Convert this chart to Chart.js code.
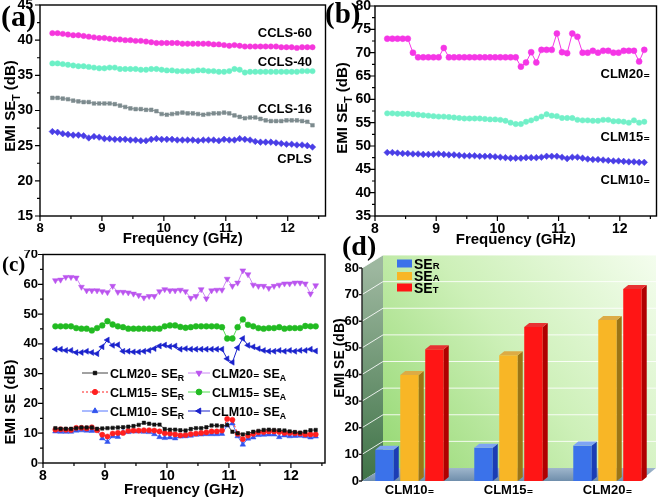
<!DOCTYPE html>
<html><head><meta charset="utf-8">
<script src="https://cdn.jsdelivr.net/npm/chart.js@4"></script>
<style>
html,body{margin:0;padding:0;background:#fff;width:661px;height:498px;overflow:hidden;position:relative;}
canvas{position:absolute;}
</style></head><body>
<canvas id="cd" width="331" height="266" style="left:330px;top:232px"></canvas>
<canvas id="cc" width="330" height="248" style="left:0px;top:250px"></canvas>
<canvas id="ca" width="330" height="250" style="left:0px;top:0px"></canvas>
<canvas id="cb" width="339" height="250" style="left:322px;top:0px"></canvas>
<script>
// ---------------- DATA ----------------
const freq = [8.200,8.284,8.368,8.452,8.536,8.620,8.704,8.788,8.872,8.956,
  9.040,9.124,9.208,9.292,9.376,9.460,9.544,9.628,9.712,9.796,
  9.880,9.964,10.048,10.132,10.216,10.300,10.384,10.468,10.552,10.636,
  10.720,10.804,10.888,10.972,11.056,11.140,11.224,11.308,11.392,11.476,
  11.560,11.644,11.728,11.812,11.896,11.980,12.064,12.148,12.232,12.316,12.400];

// panel (a) EMI SE_T
const ccls60 = [41.0,41.0,40.9,40.8,40.7,40.7,40.6,40.5,40.4,40.3,
  40.3,40.2,40.1,40.1,40.0,40.0,39.9,39.9,39.8,39.7,
  39.6,39.6,39.6,39.6,39.6,39.5,39.5,39.5,39.5,39.5,
  39.5,39.4,39.4,39.3,39.2,39.3,39.2,39.1,39.1,39.1,
  39.1,39.1,39.1,39.1,39.0,39.0,39.0,38.9,39.0,39.0,39.0];
const ccls40 = [36.7,36.7,36.6,36.5,36.4,36.3,36.3,36.2,36.1,36.0,36.0,
  36.1,36.1,35.9,35.9,35.9,35.9,35.8,35.8,35.9,35.9,35.8,
  35.7,35.7,35.6,35.6,35.6,35.6,35.7,35.7,35.6,35.6,35.5,
  35.5,35.6,35.9,35.8,35.4,35.5,35.5,35.5,35.5,35.5,35.5,
  35.5,35.5,35.5,35.5,35.6,35.6,35.6];
const ccls16 = [31.8,31.8,31.7,31.6,31.4,31.3,31.2,31.2,31.0,31.0,31.0,
  31.0,30.9,30.7,30.5,30.3,30.2,30.2,30.1,30.1,29.9,29.5,
  29.4,29.5,29.6,29.7,29.6,29.6,29.5,29.4,29.5,29.6,29.6,
  29.7,29.6,29.3,29.1,28.9,29.0,29.0,28.8,28.6,28.5,28.5,
  28.5,28.6,28.6,28.6,28.5,28.4,27.9];
const cpls = [27.0,26.9,26.7,26.6,26.5,26.5,26.4,26.1,26.3,26.2,26.0,
  26.0,25.9,25.9,25.9,25.8,25.8,25.7,25.7,25.9,26.0,25.9,
  25.9,25.9,25.8,25.8,25.8,25.8,25.7,25.8,25.8,25.8,25.7,
  25.9,25.8,25.8,26.0,25.9,25.8,25.6,25.5,25.5,25.5,25.4,
  25.3,25.2,25.2,25.1,25.1,25.0,24.8];
const aNames = ['CCLS-60','CCLS-40','CCLS-16','CPLS'];

// panel (b) EMI SE_T
const clm20T = [73,73,73,73,73,70,69,69,69,69,69,71,
  69,69,69,69,69,69,69,69,69,69,69,69,69,69,
  67,67.9,70.1,67.9,70.6,70.6,70.6,74.1,70.1,69.9,74.1,73.4,70,70,
  70.4,70,70.4,70.4,70,70,70.4,70.4,70.4,68.1,70.6];
const clm15T = [57.0,57.0,56.9,56.9,56.9,56.8,56.7,56.6,56.5,56.4,56.3,
  56.3,56.2,56.1,56.0,55.9,55.9,55.9,55.9,55.8,55.7,55.7,
  55.6,55.4,55.0,54.7,54.7,55.2,55.5,55.9,56.3,56.8,56.5,
  56.4,56.0,56.0,56.0,55.6,55.5,55.5,55.4,55.4,55.6,55.6,
  55.3,55.3,55.2,55.0,55.5,55.0,55.2];
const clm10T = [48.6,48.6,48.5,48.4,48.4,48.3,48.3,48.2,48.2,48.2,48.3,
  48.2,48.1,48.1,48.0,47.9,47.9,47.9,47.8,47.8,47.8,47.7,
  47.6,47.5,47.4,47.4,47.4,47.5,47.5,47.5,47.6,47.8,47.8,
  47.8,47.6,47.3,47.6,47.6,47.4,47.2,47.1,47.1,47.0,46.9,
  46.8,46.8,46.7,46.6,46.6,46.5,46.5];
const bNames = ['CLM20₌','CLM15₌','CLM10₌'];

// panel (c) SE_R and SE_A
const clm20R = [11.7,11.5,11.5,11.5,11.7,11.9,11.9,11.9,11.5,11.6,11.7,
  11.8,11.9,12.0,12.2,12.4,12.8,13.5,13.2,12.9,12.9,11.4,
  11.2,11.2,11.0,10.9,11.4,11.7,11.7,12.0,12.6,12.6,12.4,
  12.8,10.5,10.0,9.6,10.0,10.5,10.8,11.1,11.2,11.1,11.0,
  10.9,10.6,10.4,10.2,10.5,11.0,11.1];
const clm20A = [61.3,61.5,62.4,62.4,62.2,59.1,57.9,57.9,57.9,57.6,
  57.3,59.4,57.4,57.4,57.2,56.8,56.3,55.5,56.0,56.0,
  57.6,58.3,57.9,57.9,58.1,57.6,55.4,56.0,58.3,55.2,
  57.9,58.1,58.1,61.8,59.4,60.5,64.6,63.3,59.8,59.4,
  59.4,58.7,59.4,59.8,60.2,60.2,60.5,60.5,60.2,56.8,59.6];
const clm15R = [11.2,11.3,11.2,11.1,11.8,11.8,11.6,12.0,11.0,9.5,8.9,
  9.9,10.1,10.1,10.8,10.9,10.9,11.0,11.0,10.9,10.6,10.0,
  9.9,9.6,9.3,9.4,9.7,9.9,10.1,10.3,10.6,10.6,10.9,
  14.8,14.5,9.8,8.0,9.2,9.8,10.3,10.4,10.6,10.6,10.4,
  10.1,10.1,10.0,9.9,9.6,9.6,9.6];
const clm15A = [45.9,45.9,45.9,45.9,45.3,45.1,45.1,44.5,45.3,46.2,
  47.6,46.5,45.9,45.6,45.1,45.1,45.1,45.1,45.1,45.1,
  45.1,45.9,46.2,46.2,45.7,45.4,45.6,45.9,45.9,45.9,
  45.9,45.9,45.6,41.8,41.8,45.6,48.2,46.4,45.9,45.3,
  45.1,45.3,45.3,45.6,45.1,45.3,45.3,45.3,46.0,45.9,45.9];
const clm10R = [10.6,10.5,10.5,10.5,10.9,11.0,10.9,10.8,11.0,8.3,7.1,
  9.0,8.8,10.3,10.4,10.6,10.6,10.5,10.4,9.7,8.7,8.4,
  8.6,8.3,8.9,9.0,9.2,9.5,9.6,9.7,9.7,9.7,9.8,
  12.6,13.3,9.0,6.2,8.2,8.6,9.4,9.5,9.6,9.6,8.7,
  9.3,9.0,9.1,9.2,9.0,8.6,8.9];
const clm10A = [38.2,38.2,37.8,37.8,37.1,37.1,37.5,37.1,36.7,39.0,
  41.3,39.5,39.7,37.5,37.5,37.3,37.3,37.5,37.8,38.4,
  39.3,39.6,39.1,39.3,38.2,38.4,38.2,38.2,38.2,38.2,
  38.2,38.2,38.2,35.0,33.8,38.7,41.8,39.5,39.0,38.4,
  37.8,37.5,37.5,37.8,37.5,37.8,37.5,37.8,37.8,38.2,37.6];
const cSamples = ['CLM20₌','CLM20₌','CLM15₌','CLM15₌','CLM10₌','CLM10₌'];
const cComps = ['R','A','R','A','R','A'];

// panel (d) average SE
const dCats = ['CLM10₌','CLM15₌','CLM20₌'];
const dSER = [11.7, 12.5, 13.3];
const dSEA = [39.8, 47.2, 60.5];
const dSET = [49.5, 57.8, 72.1];
const dComps = ['R','A','T'];

// ---------------- HELPERS ----------------
const FF = "'Liberation Sans', Arial, 'DejaVu Sans', sans-serif";
const SERIF = "'Liberation Serif', 'Times New Roman', 'DejaVu Serif', serif";
Chart.defaults.font.family = FF;
Chart.defaults.color = '#000';
Chart.defaults.animation = false;

function rich(ctx, parts, x, y, size, align, rot, subMode) {
  ctx.save(); ctx.translate(x, y); if (rot) ctx.rotate(rot);
  let total = 0;
  const m = parts.map(p => {
    const fs = p[1] ? size * (subMode === 'small' ? 0.68 : 0.7) : size;
    ctx.font = `bold ${fs}px ${FF}`;
    const w = ctx.measureText(p[0]).width; total += w;
    return {t: p[0], fs, w, s: p[1]};
  });
  let cx = align === 'center' ? -total / 2 : align === 'right' ? -total : 0;
  ctx.textBaseline = 'alphabetic'; ctx.textAlign = 'left'; ctx.fillStyle = '#000';
  const base = size * 0.36;
  m.forEach(o => {
    ctx.font = `bold ${o.fs}px ${FF}`;
    const dy = o.s ? (subMode === 'small' ? 0 : size * 0.28) : 0;
    ctx.fillText(o.t, cx, base + dy); cx += o.w;
  });
  ctx.restore();
}

function scalesXY(o) {
  const fit = (w, h) => s => { if (w) s.width = w; if (h) s.height = h; s.paddingLeft = s.paddingRight = s.paddingTop = s.paddingBottom = 0; };
  return {
    x: {type: 'linear', min: 8, max: o.xMax,
        ticks: {stepSize: 1, includeBounds: false, font: {size: o.xf, weight: 'bold'}, padding: o.xpad, maxRotation: 0, autoSkip: false, color: '#000'},
        grid: {display: false, drawTicks: false}, border: {display: false}, afterFit: fit(0, o.xH)},
    y: {type: 'linear', min: o.yMin, max: o.yMax,
        ticks: {stepSize: o.yStep, includeBounds: false, font: {size: o.yf, weight: 'bold'}, padding: o.ypad, color: '#000'},
        grid: {display: false, drawTicks: false}, border: {display: false}, afterFit: fit(o.yW, 0)}
  };
}

function frameTicks(chart, o) {
  const ctx = chart.ctx, a = chart.chartArea, xs = chart.scales.x, ys = chart.scales.y;
  ctx.save();
  ctx.strokeStyle = '#000'; ctx.lineWidth = 1.4;
  ctx.strokeRect(a.left, a.top, a.right - a.left, a.bottom - a.top);
  ctx.beginPath(); ctx.lineWidth = 1.2;
  for (let k = 0; ; k++) {
    const v = 8 + k * 0.5; if (v > o.xMax + 1e-9) break;
    const px = xs.getPixelForValue(v), L = (k % 2 === 0) ? 5 : 3;
    ctx.moveTo(px, a.bottom); ctx.lineTo(px, a.bottom + L);
  }
  for (let k = 0; ; k++) {
    const v = o.yMin + k * o.yStep / 2; if (v > o.yMax + 1e-9) break;
    const py = ys.getPixelForValue(v), L = (k % 2 === 0) ? 5 : 3;
    ctx.moveTo(a.left, py); ctx.lineTo(a.left - L, py);
  }
  ctx.stroke(); ctx.restore();
}

function letter(ctx, t, x, y, size) {
  ctx.save(); ctx.font = `bold ${size}px ${SERIF}`; ctx.fillStyle = '#000';
  ctx.textAlign = 'left'; ctx.textBaseline = 'middle'; ctx.fillText(t, x, y); ctx.restore();
}
function label(ctx, t, x, y, size, align) {
  ctx.save(); ctx.font = `bold ${size}px ${FF}`; ctx.fillStyle = '#000';
  ctx.textAlign = align || 'right'; ctx.textBaseline = 'middle'; ctx.fillText(t, x, y); ctx.restore();
}

function lineDS(label, vals, color, extra) {
  return Object.assign({label, data: freq.map((f, i) => ({x: f, y: vals[i]})),
    borderColor: color, backgroundColor: color, pointBackgroundColor: color, pointBorderColor: color,
    borderWidth: 1, pointRadius: 2.7, pointBorderWidth: 0.5, pointStyle: 'circle', tension: 0}, extra || {});
}

const baseOpts = (pad) => ({responsive: false, maintainAspectRatio: false, devicePixelRatio: 1, events: [],
  layout: {padding: pad}, plugins: {legend: {display: false}, tooltip: {enabled: false}}});

// ---------------- PANEL (a) ----------------
const oa = {xMax: 12.61, yMin: 15, yMax: 45, yStep: 5, xf: 13, yf: 14, xpad: 5, ypad: 7, xH: 34, yW: 40};
new Chart(document.getElementById('ca'), {
  type: 'line',
  data: {datasets: [
    lineDS(aNames[0], ccls60, '#f536dc'),
    lineDS(aNames[1], ccls40, '#6cf0c6'),
    lineDS(aNames[2], ccls16, '#7d8b8e', {pointStyle: 'rect', pointRadius: 2.6}),
    lineDS(aNames[3], cpls, '#4a3ee6', {pointStyle: 'rectRot', pointRadius: 3.3})
  ]},
  options: Object.assign(baseOpts({left: 0, top: 5, right: 4, bottom: 0}), {scales: scalesXY(oa)}),
  plugins: [{id: 'decoA', afterDraw(c) {
    const ctx = c.ctx, a = c.chartArea;
    frameTicks(c, oa);
    rich(ctx, [['Frequency (GHz)']], (a.left + a.right) / 2, 238, 15, 'center');
    rich(ctx, [['EMI SE'], ['T', 1], [' (dB)']], 10, 106, 15, 'center', -Math.PI / 2);
    letter(ctx, '(a)', 1, 18, 30);
    const ly = [33, 62, 109, 159];
    aNames.forEach((n, i) => label(ctx, n, 312, ly[i], 13));
  }}]
});

// ---------------- PANEL (b) ----------------
const ob = {xMax: 12.6, yMin: 35, yMax: 80, yStep: 5, xf: 14, yf: 14, xpad: 5, ypad: 4, xH: 34, yW: 53};
new Chart(document.getElementById('cb'), {
  type: 'line',
  data: {datasets: [
    lineDS(bNames[0], clm20T, '#f536e6', {pointRadius: 3}),
    lineDS(bNames[1], clm15T, '#72f0c8'),
    lineDS(bNames[2], clm10T, '#4a3ee6', {pointStyle: 'rectRot', pointRadius: 3.3})
  ]},
  options: Object.assign(baseOpts({left: 0, top: 6, right: 1, bottom: 0}), {scales: scalesXY(ob)}),
  plugins: [{id: 'decoB', afterDraw(c) {
    const ctx = c.ctx, a = c.chartArea;
    frameTicks(c, ob);
    rich(ctx, [['Frequency (GHz)']], (a.left + a.right) / 2, 239, 15, 'center');
    rich(ctx, [['EMI SE'], ['T', 1], [' (dB)']], 20, 108, 15, 'center', -Math.PI / 2);
    letter(ctx, '(b)', 3, 16, 29);
    const ly = [74, 137, 180];
    bNames.forEach((n, i) => label(ctx, n, 328, ly[i], 13));
  }}]
});

// ---------------- PANEL (c) ----------------
const oc = {xMax: 12.55, yMin: 0, yMax: 70, yStep: 10, xf: 14, yf: 13, xpad: 5, ypad: 5, xH: 35, yW: 43};
const cDS = [
  lineDS('r20', clm20R, '#111111', {borderColor: '#444', pointStyle: 'rect', pointRadius: 2.4}),
  lineDS('a20', clm20A, '#bb55ee', {borderColor: '#cc88f4', pointStyle: 'triangle', rotation: 180, pointRadius: 3.4}),
  lineDS('r15', clm15R, '#ff2020', {borderDash: [2, 2], pointRadius: 2.6}),
  lineDS('a15', clm15A, '#22bb22', {borderColor: '#55dd55', pointStyle: 'circle', pointRadius: 2.9}),
  lineDS('r10', clm10R, '#3355ee', {borderColor: '#5577ff', pointStyle: 'triangle', pointRadius: 3.2}),
  lineDS('a10', clm10A, '#1a22cc', {pointStyle: 'triangle', rotation: -90, pointRadius: 3.4})
];
new Chart(document.getElementById('cc'), {
  type: 'line',
  data: {datasets: cDS},
  options: Object.assign(baseOpts({left: 0, top: 4, right: 5, bottom: 0}), {scales: scalesXY(oc)}),
  plugins: [{id: 'decoC', afterDraw(c) {
    const ctx = c.ctx, a = c.chartArea;
    frameTicks(c, oc);
    rich(ctx, [['Frequency (GHz)']], (a.left + a.right) / 2, 239, 15, 'center');
    rich(ctx, [['EMI SE (dB)']], 10, 152, 15, 'center', -Math.PI / 2);
    letter(ctx, '(c)', 2, 16, 21);
    // legend
    const rows = [123, 142, 161], cols = [[82, 108, 110], [188, 210, 212]];
    cDS.forEach((ds, i) => {
      const r = rows[Math.floor(i / 2)], col = cols[i % 2];
      ctx.save();
      ctx.strokeStyle = ds.borderColor; ctx.lineWidth = 1;
      ctx.setLineDash(ds.borderDash || []);
      ctx.beginPath(); ctx.moveTo(col[0], r); ctx.lineTo(col[1], r); ctx.stroke();
      ctx.setLineDash([]);
      ctx.fillStyle = ds.pointBackgroundColor; ctx.strokeStyle = ds.pointBorderColor;
      Chart.helpers.drawPoint(ctx, {pointStyle: ds.pointStyle, radius: ds.pointRadius, rotation: ds.rotation || 0, borderWidth: 0.5}, (col[0] + col[1]) / 2, r);
      ctx.restore();
      rich(ctx, [[cSamples[i] + ' SE'], [cComps[i], 1]], col[2], r, 12.5, 'left');
    });
  }}]
});

// ---------------- PANEL (d) ----------------
const DX = 21, DY = -13;
const faceCols = [
  {front: '#3b72ea', side: '#1b3db5', top: '#7ea4f4'},
  {front: '#f8b626', side: '#9c7515', top: '#dcab45'},
  {front: '#ff1515', side: '#b00000', top: '#e83232'}
];
new Chart(document.getElementById('cd'), {
  type: 'bar',
  data: {labels: dCats, datasets: [
    {label: 'SE' + dComps[0], data: dSER, backgroundColor: faceCols[0].front},
    {label: 'SE' + dComps[1], data: dSEA, backgroundColor: faceCols[1].front},
    {label: 'SE' + dComps[2], data: dSET, backgroundColor: faceCols[2].front}
  ]},
  options: Object.assign(baseOpts({left: 0, top: 36, right: 4, bottom: 0}), {
    datasets: {bar: {barPercentage: 0.74, categoryPercentage: 0.757, borderWidth: 0}},
    scales: {
      x: {type: 'category', offset: true, ticks: {font: {size: 13, weight: 'bold'}, padding: 2, color: '#000', maxRotation: 0},
          grid: {display: false, drawTicks: false}, border: {display: false},
          afterFit(s) { s.height = 17; s.paddingLeft = s.paddingRight = s.paddingTop = s.paddingBottom = 0; }},
      y: {type: 'linear', min: 0, max: 80, ticks: {stepSize: 10, font: {size: 13, weight: 'bold'}, padding: 1, color: '#000'},
          grid: {display: false, drawTicks: false}, border: {display: false},
          afterFit(s) { s.width = 30; s.paddingLeft = s.paddingRight = s.paddingTop = s.paddingBottom = 0; }}
    }
  }),
  plugins: [{id: 'bg3d', beforeDatasetsDraw(c) {
    const ctx = c.ctx, a = c.chartArea, ys = c.scales.y;
    const L = a.left + 2, R = 326, yT = ys.getPixelForValue(80), yB = ys.getPixelForValue(0);
    ctx.save();
    // left wall
    let g = ctx.createLinearGradient(0, yT, 0, yB);
    g.addColorStop(0, '#9db79f'); g.addColorStop(1, '#3f7347');
    ctx.fillStyle = g; ctx.beginPath();
    ctx.moveTo(L, yT); ctx.lineTo(L + DX, yT + DY); ctx.lineTo(L + DX, yB + DY); ctx.lineTo(L, yB); ctx.closePath(); ctx.fill();
    // back wall
    g = ctx.createLinearGradient(R, yT + DY, L + DX, yB + DY);
    g.addColorStop(0, '#f4fdee'); g.addColorStop(0.5, '#cdf0b8'); g.addColorStop(1, '#95d872');
    ctx.fillStyle = g; ctx.fillRect(L + DX, yT + DY, R - L - DX, yB - yT);
    // grid lines
    ctx.strokeStyle = 'rgba(255,255,255,0.85)'; ctx.lineWidth = 1;
    ctx.beginPath();
    for (let v = 10; v <= 80; v += 10) {
      const y = ys.getPixelForValue(v);
      ctx.moveTo(L, y); ctx.lineTo(L + DX, y + DY); ctx.lineTo(R, y + DY);
    }
    ctx.stroke();
    // floor
    g = ctx.createLinearGradient(0, yB + DY, 0, yB);
    g.addColorStop(0, '#9fb6cc'); g.addColorStop(1, '#6f8eab');
    ctx.fillStyle = g; ctx.beginPath();
    ctx.moveTo(L, yB); ctx.lineTo(L + DX, yB + DY); ctx.lineTo(R, yB + DY); ctx.lineTo(R - DX + 5, yB); ctx.closePath(); ctx.fill();
    // axis + ticks
    ctx.strokeStyle = '#222'; ctx.lineWidth = 1.4;
    ctx.beginPath(); ctx.moveTo(L, yT); ctx.lineTo(L, yB);
    for (let v = 0; v <= 80; v += 10) { const y = ys.getPixelForValue(v); ctx.moveTo(L - 3, y); ctx.lineTo(L, y); }
    ctx.stroke();
    ctx.restore();
  }, afterDatasetsDraw(c) {
    const ctx = c.ctx, dx = 5, dy = -4;
    c.data.datasets.forEach((ds, i) => {
      c.getDatasetMeta(i).data.forEach(bar => {
        const p = bar.getProps(['x', 'y', 'base', 'width'], true);
        const l = p.x - p.width / 2, r = p.x + p.width / 2;
        ctx.save();
        ctx.fillStyle = faceCols[i].side; ctx.beginPath();
        ctx.moveTo(r, p.y); ctx.lineTo(r + dx, p.y + dy); ctx.lineTo(r + dx, p.base + dy); ctx.lineTo(r, p.base); ctx.closePath(); ctx.fill();
        ctx.fillStyle = faceCols[i].top; ctx.beginPath();
        ctx.moveTo(l, p.y); ctx.lineTo(l + dx, p.y + dy); ctx.lineTo(r + dx, p.y + dy); ctx.lineTo(r, p.y); ctx.closePath(); ctx.fill();
        ctx.restore();
      });
    });
  }, afterDraw(c) {
    const ctx = c.ctx;
    rich(ctx, [['EMI SE (dB)']], 9, 126, 14, 'center', -Math.PI / 2);
    letter(ctx, '(d)', 12, 16, 28);
    const ly = [31.5, 44, 55.5];
    c.data.datasets.forEach((ds, i) => {
      ctx.fillStyle = ds.backgroundColor; ctx.fillRect(67, ly[i] - 4, 15, 8);
      rich(ctx, [['SE'], [dComps[i], 1]], 84, ly[i], 14, 'left', 0, 'small');
    });
  }}]
});
</script>
</body></html>
